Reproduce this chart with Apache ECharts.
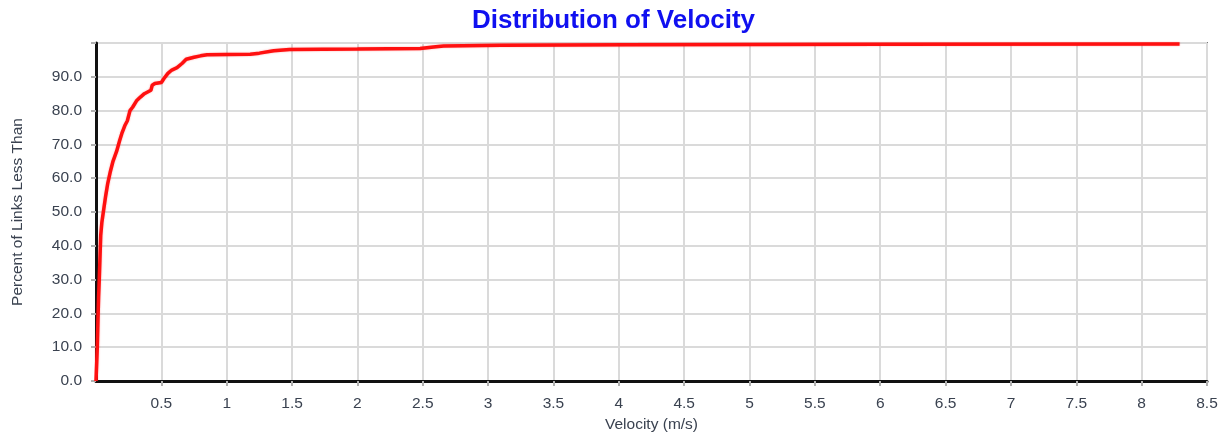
<!DOCTYPE html>
<html>
<head>
<meta charset="utf-8">
<title>Distribution of Velocity</title>
<script src="https://cdn.jsdelivr.net/npm/echarts@6/dist/echarts.min.js"></script>
<style>
  html, body { margin: 0; padding: 0; background: #ffffff; }
  #chart { width: 1227px; height: 434px; }
</style>
</head>
<body>
<div id="chart"></div>
<script>
// Cumulative distribution of link velocities
const velocity = [0, 0.005, 0.01, 0.015, 0.02, 0.025, 0.03, 0.036, 0.045, 0.06,
  0.075, 0.09, 0.11, 0.13, 0.158, 0.18, 0.2, 0.22, 0.24, 0.26,
  0.28, 0.31, 0.34, 0.37, 0.42, 0.43, 0.45, 0.5, 0.52, 0.55,
  0.58, 0.62, 0.66, 0.69, 0.75, 0.8, 0.85, 1.0, 1.18, 1.25,
  1.36, 1.48, 2.0, 2.48, 2.6, 2.66, 3.1, 4.05, 6.0, 8.29];
const percentLess = [0, 5, 10, 18, 25, 30, 36, 43, 47, 51,
  55, 58.5, 62, 65, 68, 71, 73.5, 75.5, 77, 80,
  81, 82.9, 84, 85, 86, 87.5, 88, 88.3, 89.5, 91,
  92, 92.7, 94, 95.2, 95.8, 96.2, 96.5, 96.6, 96.7, 97,
  97.7, 98.1, 98.2, 98.4, 98.9, 99.1, 99.3, 99.5, 99.6, 99.7];

const titleText = 'Distribution of Velocity';
const xAxisTitle = 'Velocity (m/s)';
const yAxisTitle = 'Percent of Links Less Than';

const points = velocity.map((v, i) => [v, percentLess[i]]);

const chart = echarts.init(document.getElementById('chart'), null, { renderer: 'canvas' });
const labelFont = { fontFamily: 'Liberation Sans, Arial, sans-serif', fontSize: 15.5, color: '#3a4250' };

chart.setOption({
  backgroundColor: '#ffffff',
  animation: false,
  title: {
    text: titleText,
    left: 'center',
    top: 3,
    textStyle: { fontFamily: 'Liberation Sans, Arial, sans-serif', fontSize: 26, fontWeight: 'bold', color: '#1010f0' }
  },
  grid: {
    left: 96, right: 20, top: 43, bottom: 53,
    outerBoundsMode: 'none',
    containLabel: false,
    show: true, borderColor: '#7a7a7a', borderWidth: 2, backgroundColor: '#ffffff'
  },
  xAxis: {
    type: 'value',
    min: 0, max: 8.5, interval: 0.5,
    name: xAxisTitle,
    nameLocation: 'middle',
    nameGap: 35,
    nameTextStyle: labelFont,
    axisLine: { show: true, onZero: false, lineStyle: { color: '#111111', width: 3 } },
    axisTick: { show: true, length: 5, lineStyle: { color: '#b0b0b0', width: 2 } },
    axisLabel: Object.assign({
      margin: 15,
      showMinLabel: false,
      formatter: v => (v === 0 ? '' : String(v))
    }, labelFont),
    splitLine: { show: true, lineStyle: { color: '#dadada', width: 2 } }
  },
  yAxis: {
    type: 'value',
    min: 0, max: 100, interval: 10,
    name: yAxisTitle,
    nameLocation: 'middle',
    nameGap: 70,
    nameRotate: 90,
    nameTextStyle: labelFont,
    axisLine: { show: true, onZero: false, lineStyle: { color: '#111111', width: 3 } },
    axisTick: { show: true, length: 5, lineStyle: { color: '#b0b0b0', width: 2 } },
    axisLabel: Object.assign({
      margin: 14,
      formatter: v => (v >= 100 ? '' : v.toFixed(1))
    }, labelFont),
    splitLine: { show: true, lineStyle: { color: '#dadada', width: 2 } }
  },
  series: [{
    type: 'line',
    data: points,
    showSymbol: false,
    symbol: 'none',
    lineStyle: { color: '#ff1010', width: 3.5, shadowColor: 'rgba(255,0,0,0.35)', shadowBlur: 2 },
    z: 5
  }]
});
</script>
</body>
</html>
